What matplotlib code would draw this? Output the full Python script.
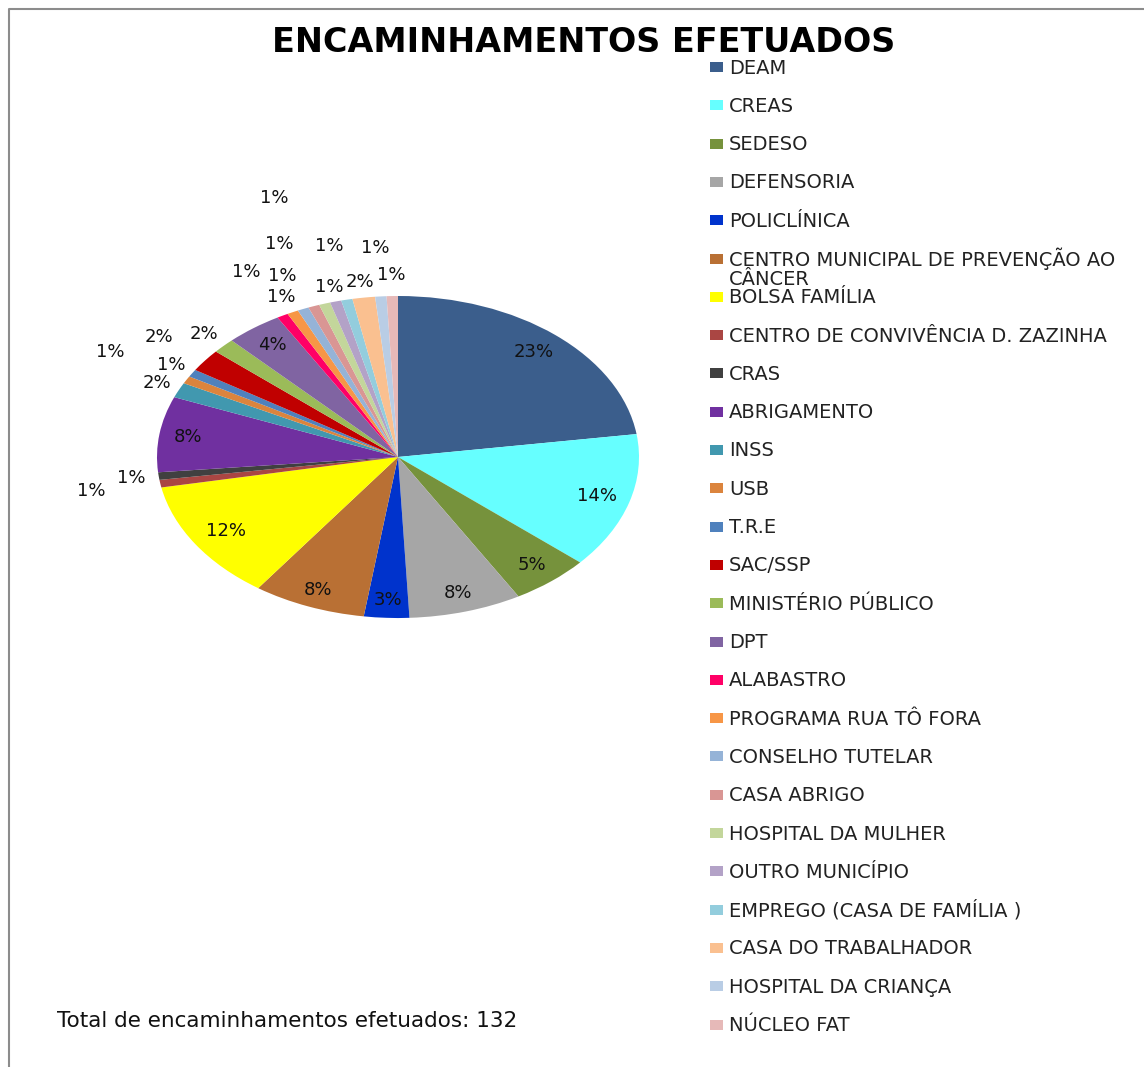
import numpy as np
import matplotlib
matplotlib.use("Agg")
import matplotlib.pyplot as plt
from matplotlib.patches import Rectangle
from matplotlib.lines import Line2D

W, H = 1144, 1067

destinos = ["DEAM", "CREAS", "SEDESO", "DEFENSORIA", "POLICLÍNICA",
            "CENTRO MUNICIPAL DE PREVENÇÃO AO\nCÂNCER", "BOLSA FAMÍLIA",
            "CENTRO DE CONVIVÊNCIA D. ZAZINHA", "CRAS", "ABRIGAMENTO", "INSS",
            "USB", "T.R.E", "SAC/SSP", "MINISTÉRIO PÚBLICO", "DPT", "ALABASTRO",
            "PROGRAMA RUA TÔ FORA", "CONSELHO TUTELAR", "CASA ABRIGO",
            "HOSPITAL DA MULHER", "OUTRO MUNICÍPIO", "EMPREGO (CASA DE FAMÍLIA )",
            "CASA DO TRABALHADOR", "HOSPITAL DA CRIANÇA", "NÚCLEO FAT"]
qtd = [30, 18, 7, 10, 4, 10, 16, 1, 1, 10, 2, 1, 1, 3, 2, 5, 1, 1, 1, 1, 1, 1, 1, 2, 1, 1]
total = 132

cores = ["#3B5E8C", "#66FFFF", "#76923C", "#A6A6A6", "#0033CC", "#B97034",
         "#FFFF00", "#AA4643", "#404040", "#7030A0", "#4198AF", "#DB843D",
         "#4F81BD", "#C00000", "#9BBB59", "#8064A2", "#FF0066", "#F79646",
         "#95B3D7", "#D99694", "#C3D69B", "#B3A2C7", "#93CDDD", "#FAC090",
         "#B9CDE5", "#E6B9B8"]

# distancia radial de cada rotulo (fatias pequenas ficam para fora)
dist_rot = [0.86, 0.86, 0.87, 0.88, 0.89, 0.89, 0.85, 1.29, 1.116, 0.88,
            1.10, 1.36, 1.10, 1.24, 1.11, 0.87, 1.31, 1.108, 1.225, 1.41,
            1.686, 1.095, 1.34, 1.10, 1.30, 1.13]

fig = plt.figure(figsize=(W / 100, H / 100), dpi=100)

# pizza "esticada" como no Excel: raio horizontal 241 px, vertical 161 px
cx, cy, rx, ry = 398, 457, 241, 161
k = 1.25
ax = fig.add_axes([(cx - rx * k) / W, 1 - (cy + ry * k) / H, 2 * rx * k / W, 2 * ry * k / H])
wedges, texts, autotexts = ax.pie(qtd, colors=cores, startangle=90, counterclock=False,
                                  autopct='%.0f%%', pctdistance=0.87,
                                  wedgeprops=dict(linewidth=0),
                                  textprops=dict(fontsize=13, color='#111111'))
ax.set_aspect('auto')
ax.set_xlim(-k, k)
ax.set_ylim(-k, k)
ax.axis('off')

for w, t, d in zip(wedges, autotexts, dist_rot):
    ang = np.deg2rad((w.theta1 + w.theta2) / 2)
    t.set_position((d * np.cos(ang), d * np.sin(ang)))
    t.set_clip_on(False)

# legenda manual (espacamento fixo como no original)
for i, (nome, cor) in enumerate(zip(destinos, cores)):
    yc = 67 + 38.3 * i
    fig.patches.append(Rectangle((710 / W, 1 - (yc + 5) / H), 13 / W, 10 / H,
                                 transform=fig.transFigure, facecolor=cor, edgecolor='none'))
    extra = 20 * nome.count("\n")   # baseline fica na ultima linha
    fig.text(729 / W, 1 - (yc + 6.5 + extra) / H, nome, fontsize=14, color='#222222',
             va='baseline', ha='left', linespacing=1.0)

fig.text(584 / W, 1 - 42 / H, "ENCAMINHAMENTOS EFETUADOS", fontsize=24,
         fontweight='bold', ha='center', va='center')
fig.text(57 / W, 1 - 1021 / H, f"Total de encaminhamentos efetuados: {total}",
         fontsize=15.5, ha='left', va='center', color='#111111')

# moldura cinza do grafico
fig.lines.append(Line2D([9 / W, 9 / W, 1], [0, 1 - 9 / H, 1 - 9 / H],
                        transform=fig.transFigure, color='#8C8C8C', lw=1.5))

fig.savefig("out.png", dpi=100, facecolor='white')
